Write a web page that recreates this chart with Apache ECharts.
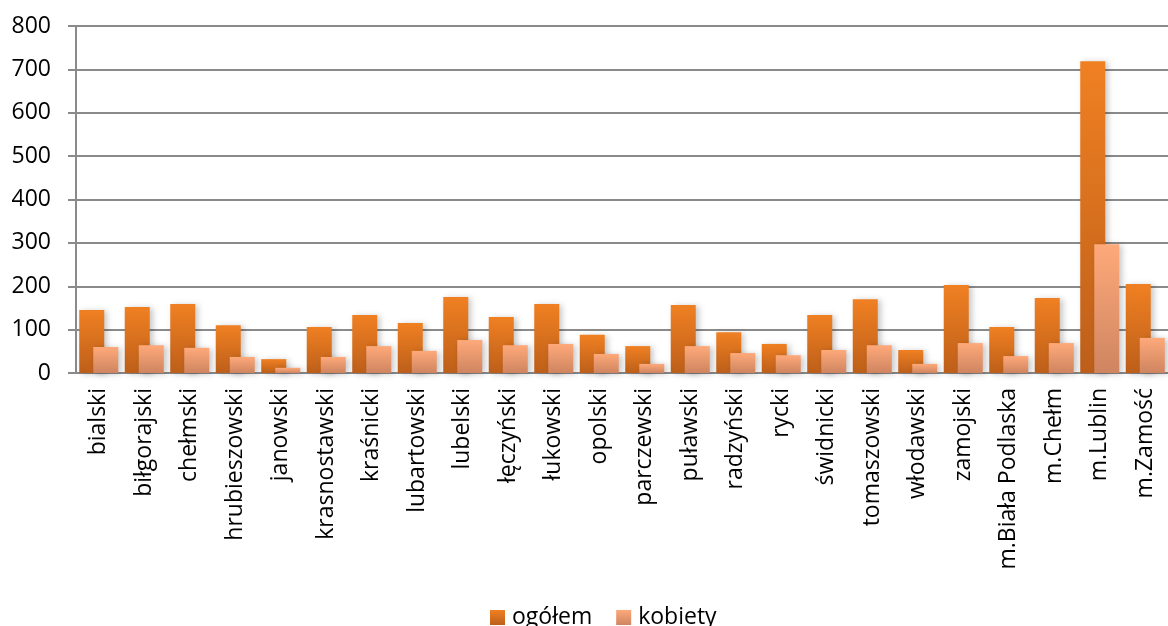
<!DOCTYPE html>
<html>
<head>
<meta charset="utf-8">
<script src="https://cdn.jsdelivr.net/npm/echarts@6/dist/echarts.min.js"></script>
<style>
  html, body { margin: 0; padding: 0; background: #fff; }
  #chart { width: 1168px; height: 626px; }
</style>
</head>
<body>
<div id="chart"></div>
<script>
// powiaty i miasta
const categories = [
  'bialski', 'biłgorajski', 'chełmski', 'hrubieszowski', 'janowski',
  'krasnostawski', 'kraśnicki', 'lubartowski', 'lubelski', 'łęczyński',
  'łukowski', 'opolski', 'parczewski', 'puławski', 'radzyński', 'rycki',
  'świdnicki', 'tomaszowski', 'włodawski', 'zamojski', 'm.Biała Podlaska',
  'm.Chełm', 'm.Lublin', 'm.Zamość'
];
const ogolem = [145, 152, 159, 110, 32, 106, 134, 115, 175, 129, 159, 88, 62, 157, 94, 67, 134, 170, 53, 203, 106, 173, 719, 205];
const kobiety = [60, 64, 58, 37, 12, 37, 62, 51, 76, 64, 67, 44, 21, 62, 46, 41, 53, 64, 21, 69, 39, 69, 297, 81];
const yTicks = { min: 0, max: 800, interval: 100 };

const chart = echarts.init(document.getElementById('chart'));

function grad(top, bottom) {
  return new echarts.graphic.LinearGradient(0, 0, 0, 1, [
    { offset: 0, color: top },
    { offset: 1, color: bottom }
  ]);
}

const barShadow = {
  shadowBlur: 6,
  shadowColor: 'rgba(0,0,0,0.22)',
  shadowOffsetX: 3,
  shadowOffsetY: 1
};

chart.setOption({
  backgroundColor: '#fff',
  animation: false,
  textStyle: { fontFamily: 'Open Sans', color: '#000' },
  grid: { left: 76, right: -5, top: 26, bottom: 253, containLabel: false },
  legend: {
    bottom: -8,
    left: 485,
    itemWidth: 15,
    itemHeight: 15,
    itemGap: 24,
    icon: 'rect',
    textStyle: { fontSize: 23, color: '#000', padding: [0, 0, 0, 2] },
    data: ['ogółem', 'kobiety']
  },
  xAxis: {
    type: 'category',
    data: categories,
    axisLine: { lineStyle: { color: '#8a8a8a', width: 2 } },
    axisTick: { length: 8, lineStyle: { color: '#8a8a8a', width: 2 } },
    axisLabel: { rotate: 90, margin: 15, fontSize: 23, color: '#000' }
  },
  yAxis: {
    type: 'value',
    min: yTicks.min,
    max: yTicks.max,
    interval: yTicks.interval,
    axisLine: { show: true, lineStyle: { color: '#8a8a8a', width: 2 } },
    axisTick: { show: true, length: 8, lineStyle: { color: '#8a8a8a', width: 2 } },
    axisLabel: { margin: 25, fontSize: 23, color: '#000' },
    splitLine: { lineStyle: { color: '#8a8a8a', width: 2 } }
  },
  series: [
    {
      name: 'ogółem',
      type: 'bar',
      data: ogolem,
      barWidth: 25,
      barGap: '-44%',
      itemStyle: Object.assign({ color: grad('#f08022', '#bd5f1a') }, barShadow)
    },
    {
      name: 'kobiety',
      type: 'bar',
      data: kobiety,
      barWidth: 25,
      itemStyle: Object.assign({ color: grad('#fea97a', '#cf8560') }, barShadow)
    }
  ]
});
</script>
</body>
</html>
